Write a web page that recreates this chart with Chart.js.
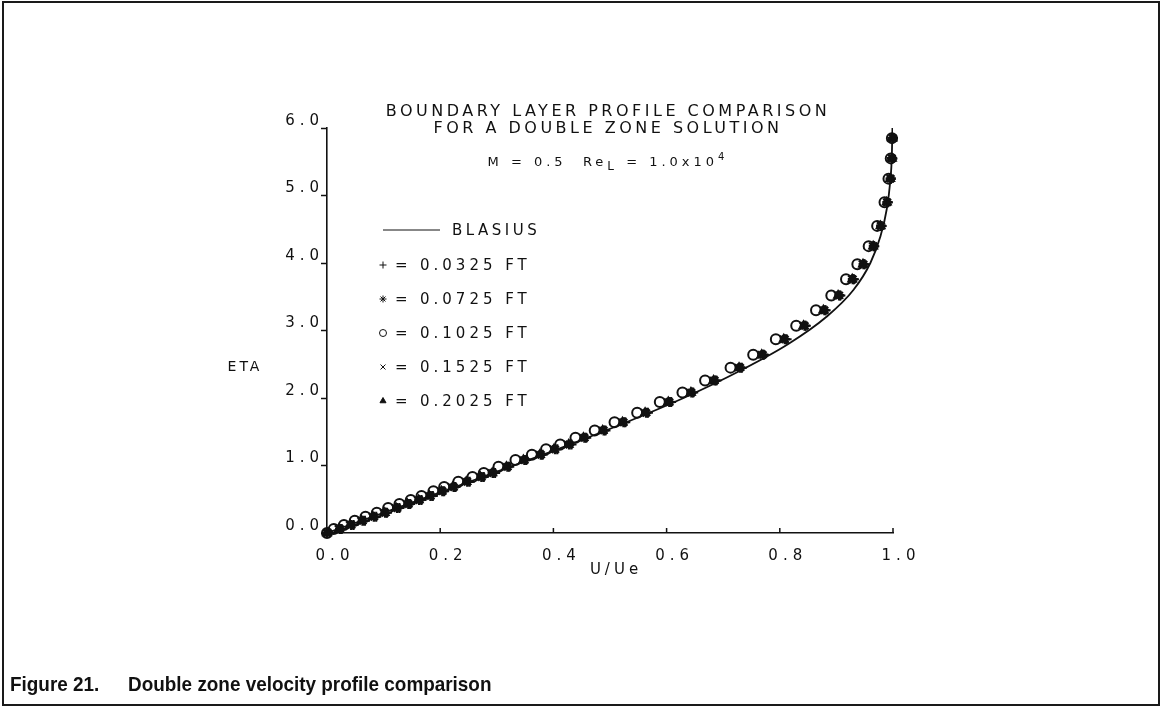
<!DOCTYPE html>
<html>
<head>
<meta charset="utf-8">
<script src="https://cdn.jsdelivr.net/npm/chart.js@4/dist/chart.umd.min.js"></script>
<style>
  body { margin: 0; background: #fff; }
  #wrap { position: relative; width: 1162px; height: 708px; overflow: hidden; }
  #frame { position: absolute; left: 2px; top: 1px; width: 1154px; height: 701px; border: 2px solid #1a1a1a; }
  #caption { position: absolute; left: 10px; top: 672px; font: bold 21px "Liberation Sans Narrow", "Liberation Sans", Arial, sans-serif; color: #111; white-space: pre; transform: scaleX(0.9); transform-origin: left top; }
  #caption span + span { margin-left: 32px; }
  canvas { position: absolute; left: 0; top: 0; }
</style>
</head>
<body>
<div id="wrap">
  <canvas id="profile" width="1162" height="708"></canvas>
  <div id="frame"></div>
  <div id="caption"><span>Figure 21.</span><span>Double zone velocity profile comparison</span></div>
</div>
<script>
// Blasius solution, U/Ue against ETA
var blasiusEta = [0, 0.4, 0.8, 1.2, 1.6, 2.0, 2.4, 2.8, 3.2, 3.6, 4.0, 4.4, 4.8, 5.2, 5.6, 6.0];
var blasiusU   = [0, 0.133, 0.265, 0.394, 0.517, 0.630, 0.729, 0.815, 0.882, 0.930, 0.960, 0.978, 0.989, 0.995, 0.998, 0.999];

// computed grid points (ETA) shared by every station
var gridEta = [0.00, 0.06, 0.12, 0.18, 0.24, 0.30, 0.37, 0.43, 0.49, 0.55, 0.62, 0.68, 0.76, 0.83, 0.89,
               0.98, 1.08, 1.16, 1.24, 1.31, 1.41, 1.52, 1.64, 1.78, 1.94, 2.08, 2.26, 2.45, 2.64, 2.87,
               3.07, 3.30, 3.52, 3.76, 3.98, 4.25, 4.55, 4.90, 5.25, 5.55, 5.85];

// U/Ue at each station
var u0325 = [0.000, 0.026, 0.047, 0.067, 0.087, 0.106, 0.128, 0.147, 0.167, 0.187, 0.207, 0.227, 0.252, 0.277, 0.297,
             0.322, 0.352, 0.381, 0.407, 0.432, 0.458, 0.492, 0.527, 0.567, 0.608, 0.647, 0.688, 0.733, 0.772, 0.812,
             0.846, 0.881, 0.907, 0.931, 0.950, 0.967, 0.980, 0.991, 0.996, 0.999, 1.000];
var u0725 = [0.000, 0.023, 0.043, 0.063, 0.083, 0.103, 0.124, 0.144, 0.163, 0.183, 0.204, 0.224, 0.248, 0.273, 0.293,
             0.319, 0.349, 0.378, 0.403, 0.428, 0.455, 0.489, 0.524, 0.564, 0.605, 0.644, 0.685, 0.730, 0.770, 0.809,
             0.844, 0.879, 0.905, 0.929, 0.948, 0.966, 0.979, 0.990, 0.996, 0.998, 1.000];
var u1025 = [0.000, 0.012, 0.030, 0.049, 0.068, 0.088, 0.108, 0.128, 0.148, 0.167, 0.188, 0.207, 0.232, 0.257, 0.277,
             0.303, 0.333, 0.362, 0.387, 0.412, 0.439, 0.473, 0.508, 0.548, 0.588, 0.628, 0.668, 0.713, 0.753, 0.793,
             0.829, 0.864, 0.891, 0.917, 0.937, 0.957, 0.972, 0.985, 0.992, 0.996, 0.998];
var u1525 = [0.000, 0.020, 0.040, 0.060, 0.080, 0.100, 0.121, 0.141, 0.160, 0.180, 0.201, 0.220, 0.245, 0.270, 0.290,
             0.316, 0.346, 0.375, 0.400, 0.425, 0.452, 0.486, 0.521, 0.561, 0.602, 0.641, 0.682, 0.727, 0.767, 0.806,
             0.841, 0.876, 0.902, 0.927, 0.946, 0.964, 0.978, 0.989, 0.995, 0.998, 0.999];
var u2025 = [0.000, 0.021, 0.041, 0.061, 0.081, 0.102, 0.122, 0.142, 0.162, 0.181, 0.202, 0.222, 0.246, 0.271, 0.292,
             0.317, 0.347, 0.376, 0.401, 0.427, 0.453, 0.487, 0.522, 0.562, 0.603, 0.643, 0.683, 0.728, 0.768, 0.807,
             0.842, 0.877, 0.903, 0.928, 0.947, 0.965, 0.978, 0.989, 0.995, 0.998, 0.999];

var stations = ["0.0325 FT", "0.0725 FT", "0.1025 FT", "0.1525 FT", "0.2025 FT"];
var markers  = ["cross", "star", "circle", "crossRot", "triangle"];
var stationU = [u0325, u0725, u1025, u1525, u2025];

var xTicks = ["0.0", "0.2", "0.4", "0.6", "0.8", "1.0"];
var yTicks = ["0.0", "1.0", "2.0", "3.0", "4.0", "5.0", "6.0"];

var titleLines = ["BOUNDARY LAYER PROFILE COMPARISON", "FOR A DOUBLE ZONE SOLUTION"];

var ink = "#111";

function pairs(xs, ys) {
    return xs.map(function (v, i) { return { x: v, y: ys[i] }; });
}

var datasets = [{
    label: "BLASIUS",
    data: pairs(blasiusU, blasiusEta),
    showLine: true,
    borderColor: ink,
    borderWidth: 1.8,
    pointRadius: 0,
    cubicInterpolationMode: "monotone"
}];

stations.forEach(function (name, i) {
    var m = markers[i];
    datasets.push({
        label: name,
        data: pairs(stationU[i], gridEta),
        showLine: false,
        pointStyle: m,
        pointRadius: m == "triangle" ? 4.5 : 5,
        borderColor: ink,
        backgroundColor: m == "circle" ? "rgba(255,255,255,0)" : ink,
        borderWidth: m == "star" ? 2.6 : 2,
        clip: false
    });
});

// titles, legend, axis names and the inward x ticks
var overlay = {
    id: "overlay",
    beforeDraw: function (chart) {
        chart.ctx.letterSpacing = "5px";
    },
    afterDraw: function (chart) {
        var ctx = chart.ctx, a = chart.chartArea, xs = chart.scales.x;
        ctx.save();
        ctx.fillStyle = ink;
        ctx.strokeStyle = ink;
        ctx.lineWidth = 1.5;

        xTicks.forEach(function (t) {
            var px = xs.getPixelForValue(parseFloat(t));
            ctx.beginPath();
            ctx.moveTo(px, a.bottom);
            ctx.lineTo(px, a.bottom - 5);
            ctx.stroke();
        });

        var cx = (a.left + a.right) / 2 - 2;
        ctx.textBaseline = "middle";
        ctx.textAlign = "center";
        ctx.font = '16px "DejaVu Sans"';
        ctx.letterSpacing = "3.5px";
        ctx.fillText(titleLines[0], cx, a.top - 16);
        ctx.fillText(titleLines[1], cx, a.top + 1);

        // M = 0.5  Re_L = 1.0x10^4
        var parts = [
            { t: "M = 0.5  Re", f: '13px "DejaVu Sans"', dy: 0 },
            { t: "L", f: '12px "DejaVu Sans"', dy: 4 },
            { t: " = 1.0x10", f: '13px "DejaVu Sans"', dy: 0 },
            { t: "4", f: '10px "DejaVu Sans"', dy: -6 }
        ];
        ctx.letterSpacing = "4px";
        ctx.textAlign = "left";
        var total = 0;
        parts.forEach(function (p) { ctx.font = p.f; total += ctx.measureText(p.t).width; });
        var px = cx - total / 2;
        parts.forEach(function (p) {
            ctx.font = p.f;
            ctx.fillText(p.t, px, a.top + 35 + p.dy);
            px += ctx.measureText(p.t).width;
        });

        // legend
        var lx = a.left + 56, ly = a.top + 102;
        ctx.lineWidth = 1;
        ctx.beginPath();
        ctx.moveTo(lx, ly);
        ctx.lineTo(lx + 57, ly);
        ctx.stroke();
        ctx.font = '15px "DejaVu Sans"';
        ctx.letterSpacing = "3.5px";
        ctx.fillText("BLASIUS", lx + 69, ly + 1);
        ctx.letterSpacing = "4px";
        stations.forEach(function (name, i) {
            var ry = ly + 35 + i * 34;
            var ds = chart.data.datasets[i + 1];
            ctx.fillStyle = ds.backgroundColor;
            ctx.strokeStyle = ink;
            Chart.helpers.drawPoint(ctx, {
                pointStyle: ds.pointStyle,
                radius: 3.5,
                rotation: 0,
                borderWidth: ds.borderWidth
            }, lx, ry);
            ctx.fillStyle = ink;
            ctx.fillText("=", lx + 12, ry + 1);
            ctx.fillText(name, lx + 37, ry + 1);
        });

        // axis names, both written horizontally
        ctx.textAlign = "center";
        ctx.font = '15px "DejaVu Sans"';
        ctx.letterSpacing = "4px";
        ctx.fillText("U/Ue", a.left + 289, a.bottom + 37);
        ctx.font = '14px "DejaVu Sans"';
        ctx.letterSpacing = "3px";
        ctx.fillText("ETA", a.left - 82, a.top + 239);
        ctx.restore();
    }
};

var chart = new Chart(document.getElementById("profile"), {
    type: "scatter",
    data: { datasets: datasets },
    options: {
        responsive: false,
        animation: false,
        layout: { padding: { left: 267, right: 269, top: 128, bottom: 131 } },
        plugins: { legend: { display: false }, tooltip: { enabled: false } },
        scales: {
            x: {
                type: "linear",
                min: 0, max: 1,
                afterFit: function (s) { s.height = 44; },
                border: { display: true, color: ink, width: 1.6 },
                grid: { display: true, drawOnChartArea: false, drawTicks: false, color: ink },
                ticks: {
                    stepSize: 0.2,
                    padding: 14,
                    labelOffset: 8,
                    color: ink,
                    font: { family: "DejaVu Sans", size: 15 },
                    callback: function (v) { return xTicks[Math.round(v * 5)]; }
                }
            },
            y: {
                type: "linear",
                min: 0, max: 6,
                afterFit: function (s) { s.width = 60; },
                border: { display: true, color: ink, width: 1.6 },
                grid: { display: true, drawOnChartArea: false, tickLength: 6, tickWidth: 1.5, tickColor: ink },
                ticks: {
                    stepSize: 1,
                    padding: -3,
                    labelOffset: -7,
                    color: ink,
                    font: { family: "DejaVu Sans", size: 15 },
                    callback: function (v) { return yTicks[Math.round(v)]; }
                }
            }
        }
    },
    plugins: [overlay]
});
</script>
</body>
</html>
